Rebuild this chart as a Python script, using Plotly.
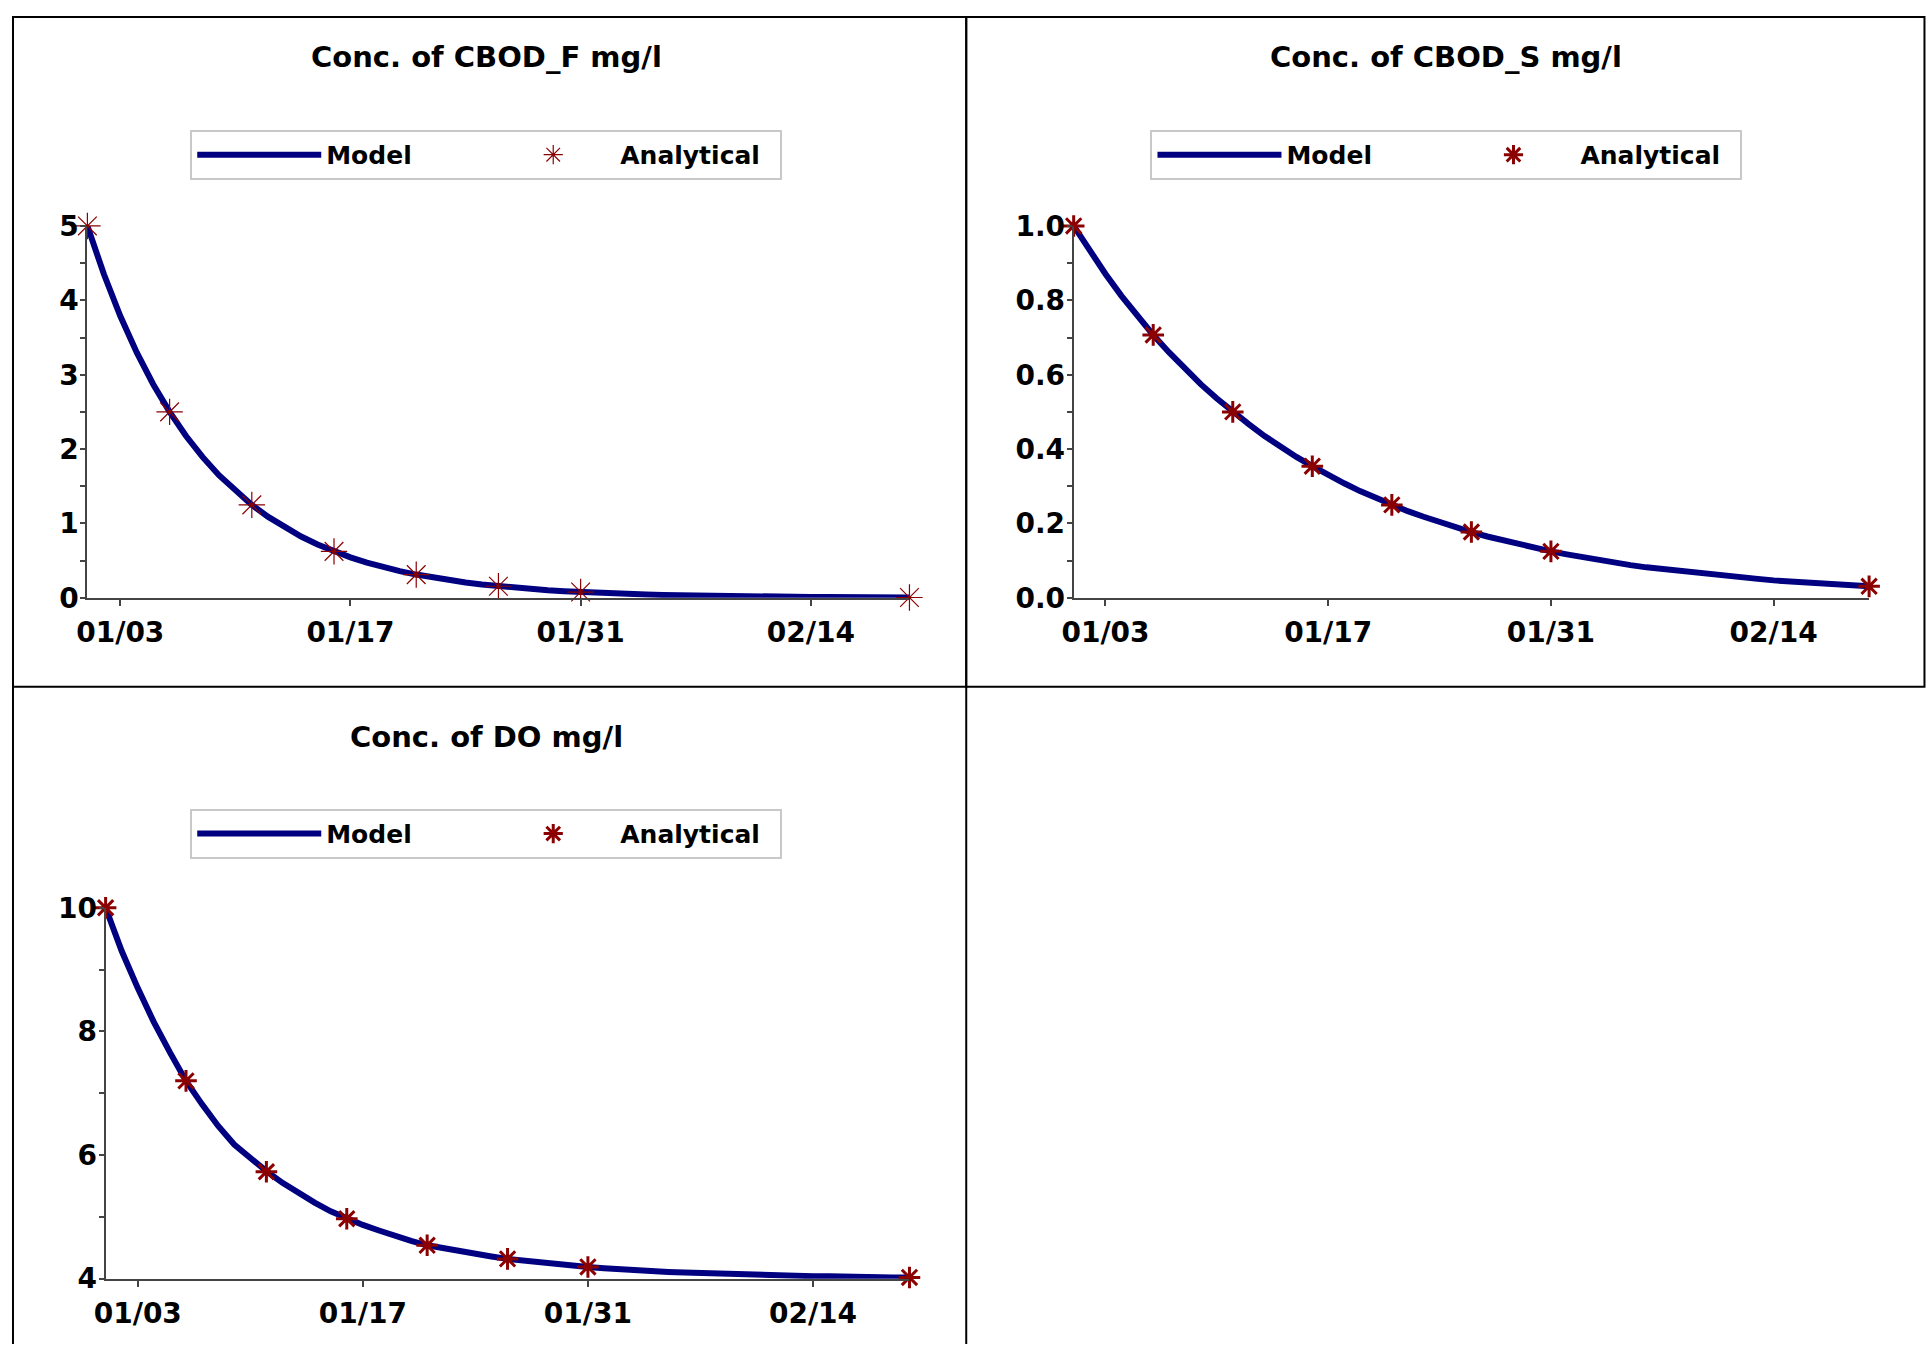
import pandas as pd
import plotly.graph_objects as go

W, H = 1931, 1361

# the photographed page comes out slightly shrunk and shifted, so target
# positions are mapped back to page pixels here
SX, OX = 0.9925, 13.0
SY, OY = 0.976, 15.0

# model output, one value per day from 01/01 to 02/20
model_dates = pd.date_range("2021-01-01", "2021-02-20", freq="D")

cbod_f_model = [5.000, 4.353, 3.789, 3.299, 2.872, 2.500, 2.176, 1.895, 1.649, 1.436,
                1.250, 1.088, 0.947, 0.825, 0.718, 0.625, 0.544, 0.474, 0.412, 0.359,
                0.313, 0.272, 0.237, 0.206, 0.180, 0.156, 0.136, 0.118, 0.103, 0.090,
                0.078, 0.068, 0.059, 0.052, 0.045, 0.039, 0.034, 0.030, 0.026, 0.022,
                0.020, 0.017, 0.015, 0.013, 0.011, 0.010, 0.008, 0.007, 0.006, 0.005,
                0.005]

cbod_s_model = [1.000, 0.933, 0.871, 0.812, 0.758, 0.707, 0.660, 0.616, 0.574, 0.536,
                0.500, 0.467, 0.435, 0.406, 0.379, 0.354, 0.330, 0.308, 0.287, 0.268,
                0.250, 0.233, 0.218, 0.203, 0.189, 0.177, 0.165, 0.154, 0.144, 0.134,
                0.125, 0.117, 0.109, 0.102, 0.095, 0.088, 0.082, 0.077, 0.072, 0.067,
                0.063, 0.058, 0.054, 0.051, 0.047, 0.044, 0.041, 0.038, 0.036, 0.034,
                0.031]

do_model = [10.00, 9.30, 8.70, 8.15, 7.66, 7.20, 6.82, 6.47, 6.17, 5.94,
            5.74, 5.55, 5.38, 5.23, 5.09, 4.97, 4.87, 4.78, 4.69, 4.61,
            4.54, 4.49, 4.44, 4.40, 4.36, 4.32, 4.29, 4.26, 4.23, 4.21,
            4.19, 4.17, 4.15, 4.14, 4.12, 4.11, 4.10, 4.09, 4.08, 4.07,
            4.06, 4.06, 4.05, 4.05, 4.04, 4.04, 4.03, 4.03, 4.03, 4.02,
            4.02]

# analytical solution points
ana_dates = ["2021-01-01", "2021-01-06", "2021-01-11", "2021-01-16",
             "2021-01-21", "2021-01-26", "2021-01-31", "2021-02-20"]
cbod_f_ana = [5.0, 2.5, 1.25, 0.625, 0.3125, 0.156, 0.078, 0.005]
cbod_s_ana = [1.0, 0.707, 0.5, 0.354, 0.25, 0.177, 0.125, 0.031]
do_ana = [10.0, 7.20, 5.73, 4.97, 4.54, 4.32, 4.19, 4.02]

titles = ["Conc. of CBOD_F mg/l", "Conc. of CBOD_S mg/l", "Conc. of DO mg/l"]

FONT = "DejaVu Sans"
NAVY = "#000080"
RED = "#8b0000"


def px(x):
    return max((x - OX) / SX, 1.0)


def py(y):
    return max((y - OY) / SY, 1.0)


def fx(x):
    return px(x) / W


def fy(y):
    return 1 - py(y) / H


fig = go.Figure()

panels = [
    # suffix, model, analytical, marker line width, marker size
    ("", cbod_f_model, cbod_f_ana, 1.2, 22),
    ("2", cbod_s_model, cbod_s_ana, 3, 18),
    ("3", do_model, do_ana, 3, 18),
]
for sfx, mod, ana, mlw, msz in panels:
    fig.add_trace(go.Scatter(
        x=model_dates, y=mod, mode="lines", name="Model",
        line=dict(color=NAVY, width=6), xaxis="x" + sfx, yaxis="y" + sfx,
        legend="legend" + sfx, cliponaxis=False))
    fig.add_trace(go.Scatter(
        x=ana_dates, y=ana, mode="markers", name="Analytical",
        marker=dict(symbol="asterisk-open", size=msz, color=RED,
                    line=dict(color=RED, width=mlw)),
        xaxis="x" + sfx, yaxis="y" + sfx, legend="legend" + sfx, cliponaxis=False))

tickfont = dict(family=FONT, size=28, color="black", weight="bold")


def xax(x0, x1, anchor):
    return dict(domain=[fx(x0), fx(x1)], anchor=anchor, type="date",
                range=["2021-01-01", "2021-02-20"], tickformat="%m/%d",
                tick0="2021-01-03", dtick=14 * 86400000, showgrid=False,
                zeroline=False, showline=True, linecolor="#444", linewidth=2,
                ticks="outside", ticklen=6, tickwidth=1.5, tickcolor="#444",
                tickfont=tickfont, ticklabelstandoff=3)


def yax(y_top, y_bot, anchor, rng, dtick, minor):
    return dict(domain=[fy(y_bot), fy(y_top)], anchor=anchor, range=rng,
                tick0=rng[0], dtick=dtick, showgrid=False, zeroline=False,
                showline=True, linecolor="#444", linewidth=2, ticks="outside",
                ticklen=5, tickwidth=1.5, tickcolor="#444", tickfont=tickfont,
                ticklabelstandoff=-4,
                minor=dict(dtick=minor, ticks="outside", ticklen=5, tickwidth=1.5,
                           tickcolor="#444", showgrid=False))


def legend(x0, y0):
    return dict(orientation="h", x=fx(x0), y=fy(y0), xanchor="left",
                yanchor="top", bgcolor="white", bordercolor="#c8c8c8",
                borderwidth=2, itemwidth=124, entrywidth=155,
                font=dict(family=FONT, size=25, color="black", weight="bold"))


fig.update_layout(
    width=W, height=H, margin=dict(l=0, r=0, t=0, b=0),
    paper_bgcolor="white", plot_bgcolor="white",
    xaxis=xax(88.3, 909.3, "y"),
    yaxis=yax(225, 597, "x", [0, 5], 1, 0.5),
    xaxis2=xax(1073.3, 1867.7, "y2"),
    yaxis2=dict(yax(225, 597, "x2", [0, 1], 0.2, 0.1), tickformat=".1f"),
    xaxis3=xax(106.5, 909.3, "y3"),
    yaxis3=yax(907, 1278, "x3", [4, 10], 2, 1),
    legend=legend(191, 129),
    legend2=legend(1150, 129),
    legend3=legend(191, 808),
)

# panel frames
frame = dict(color="black", width=2)
for x0, y0, x1, y1 in [(8, 8, 966, 686), (966, 8, 1923, 686)]:
    fig.add_shape(type="rect", xref="paper", yref="paper",
                  x0=fx(x0), x1=fx(x1), y0=fy(y0), y1=fy(y1), line=frame)
for xl in (8, 966):
    fig.add_shape(type="line", xref="paper", yref="paper",
                  x0=fx(xl), x1=fx(xl), y0=fy(686), y1=0, line=frame)

for t, cx, cy in zip(titles, [487, 1445, 487], [56.5, 56.5, 736]):
    fig.add_annotation(text=t, xref="paper", yref="paper", x=fx(cx), y=fy(cy),
                       showarrow=False, xanchor="center", yanchor="middle",
                       font=dict(family=FONT, size=29, color="black", weight="bold"))

fig.write_html("out.html", config={"displayModeBar": False},
               post_script="document.body.style.margin='0';")
